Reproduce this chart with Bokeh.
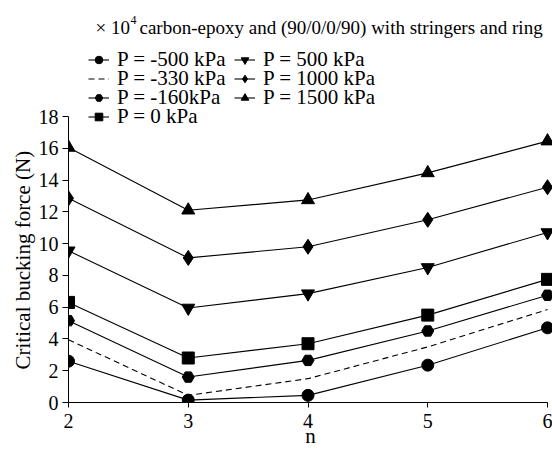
from bokeh.plotting import figure
from bokeh.models import Range1d, Legend, LegendItem, Label, FixedTicker, Title
from bokeh.embed import file_html
from bokeh.resources import INLINE

# Critical buckling force (x10^4 N) versus circumferential wave number n
n_values = [2, 3, 4, 5, 6]
p_minus500 = [2.6, 0.15, 0.45, 2.35, 4.7]
p_minus330 = [3.95, 0.45, 1.5, 3.5, 5.85]
p_minus160 = [5.15, 1.6, 2.65, 4.5, 6.75]
p_zero = [6.3, 2.8, 3.7, 5.5, 7.75]
p_500 = [9.55, 5.95, 6.85, 8.5, 10.7]
p_1000 = [12.85, 9.1, 9.8, 11.5, 13.55]
p_1500 = [16.05, 12.1, 12.75, 14.45, 16.45]

series_labels = ["P = -500 kPa", "P = -330 kPa", "P = -160kPa", "P = 0 kPa",
                 "P = 500 kPa", "P = 1000 kPa", "P = 1500 kPa"]
series_values = [p_minus500, p_minus330, p_minus160, p_zero, p_500, p_1000, p_1500]

x_ticks = [2, 3, 4, 5, 6]
y_ticks = [0, 2, 4, 6, 8, 10, 12, 14, 16, 18]
x_lo, x_hi = 2, 6
y_lo, y_hi = 0, 18

title_prefix = "\u00d7 10"
title_power = "4"
title_text = "carbon-epoxy and (90/0/0/90) with stringers and ring"
x_label = "n"
y_label = "Critical bucking force (N)"

FONT = "Liberation Serif"

# marker style per series: (marker, size, dash)
styles = [
    ("circle", 12, "solid"),
    (None, 0, "6 4"),
    ("hex", 12, "solid"),
    ("square", 12, "solid"),
    ("inverted_triangle", 13, "solid"),
    ("diamond", 15, "solid"),
    ("triangle", 13, "solid"),
]

W, H = 552, 451
# pixel positions of the axis ends; the frame spans the whole upper area so the
# legend and heading drawn above the axes are not clipped
AX_LEFT, AX_RIGHT = 68, 547
AX_TOP, AX_BOTTOM = 116, 402
FRAME_TOP, FRAME_RIGHT = 2, W

px_per_y = (AX_BOTTOM - AX_TOP) / (y_hi - y_lo)
px_per_x = (AX_RIGHT - AX_LEFT) / (x_hi - x_lo)
y_end = y_lo + (AX_BOTTOM - FRAME_TOP) / px_per_y
x_end = x_lo + (FRAME_RIGHT - AX_LEFT) / px_per_x

p = figure(width=W, height=H, output_backend="svg", toolbar_location=None,
           x_range=Range1d(x_lo, x_end), y_range=Range1d(y_lo, y_end),
           min_border_left=AX_LEFT, min_border_right=W - FRAME_RIGHT,
           min_border_top=FRAME_TOP, min_border_bottom=H - AX_BOTTOM)
p.outline_line_color = None
p.grid.visible = False
p.background_fill_color = "white"
p.border_fill_color = "white"

for ax in (p.xaxis, p.yaxis):
    ax.axis_line_color = "black"
    ax.axis_line_width = 1
    ax.major_tick_line_color = "black"
    ax.major_tick_in = 0
    ax.minor_tick_line_color = None
    ax.major_label_text_font = FONT
    ax.major_label_text_font_size = "20px"
    ax.major_label_text_color = "black"
    ax.axis_label_text_font = FONT
    ax.axis_label_text_font_size = "21px"
    ax.axis_label_text_font_style = "normal"
    ax.axis_label_text_color = "black"

p.xaxis.bounds = (x_lo, x_hi)
p.yaxis.bounds = (y_lo, y_hi)
p.xaxis.ticker = FixedTicker(ticks=x_ticks)
p.yaxis.ticker = FixedTicker(ticks=y_ticks)
p.xaxis.major_tick_out = 5
p.yaxis.major_tick_out = 6
p.xaxis.major_label_standoff = 6
p.yaxis.major_label_standoff = 4
p.xaxis.axis_label = x_label
p.xaxis.axis_label_standoff = -7

# vertical axis title, starting a little above the bottom of the 0..18 span
p.add_layout(Title(text=y_label, align="left", offset=33,
                   standoff=2, text_font=FONT, text_font_size="21px",
                   text_font_style="normal", text_color="black"), "left")

renderers = []
for vals, (marker, size, dash) in zip(series_values, styles):
    rs = [p.line(n_values, vals, line_color="black", line_width=1.1, line_dash=dash)]
    if marker is not None:
        rs.append(p.scatter(n_values, vals, marker=marker, size=size,
                            fill_color="black", line_color="black"))
    renderers.append(rs)

# legend: two columns, one small legend per entry for tight row spacing
col_x = [88, 234]
row_y = [60, 79, 98, 117]
slots = [(0, 0), (0, 1), (0, 2), (0, 3), (1, 0), (1, 1), (1, 2)]
ITEM_H = 24
for label, rs, (c, r) in zip(series_labels, renderers, slots):
    leg = Legend(items=[LegendItem(label=label, renderers=rs)],
                 location=(col_x[c] - AX_LEFT, AX_BOTTOM - row_y[r] - ITEM_H / 2),
                 padding=0, margin=0, spacing=0,
                 glyph_width=21, glyph_height=19, label_height=19, label_standoff=8,
                 border_line_color=None, background_fill_alpha=0,
                 label_text_font=FONT, label_text_font_size="21px",
                 label_text_color="black")
    p.add_layout(leg)

# heading with a superscript power of ten
base_y = AX_BOTTOM - 27
p.add_layout(Label(x=95 - AX_LEFT, y=base_y, x_units="screen", y_units="screen",
                   text=title_prefix, text_font=FONT, text_font_size="19px",
                   text_baseline="alphabetic", text_color="black"))
p.add_layout(Label(x=130 - AX_LEFT, y=base_y + 8, x_units="screen", y_units="screen",
                   text=title_power, text_font=FONT, text_font_size="12px",
                   text_baseline="alphabetic", text_color="black"))
p.add_layout(Label(x=139 - AX_LEFT, y=base_y, x_units="screen", y_units="screen",
                   text=title_text, text_font=FONT, text_font_size="19px",
                   text_baseline="alphabetic", text_color="black"))

open("out.html", "w").write(file_html(p, INLINE))
